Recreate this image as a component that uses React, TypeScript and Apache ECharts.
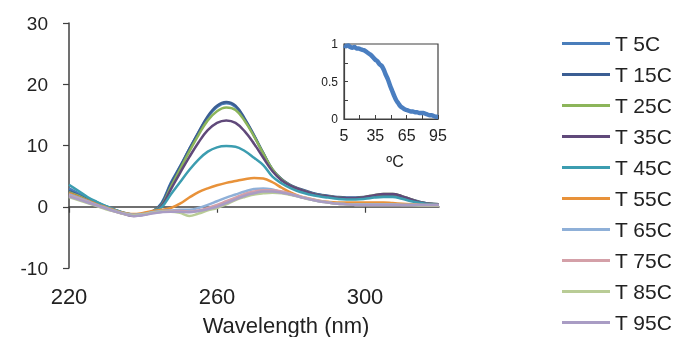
import { useEffect, useRef } from "react";
import * as echarts from "echarts";

const wavelengths = [
  220, 222.5, 225, 227.5, 230, 232.5, 235, 237.5, 240, 242.5, 245, 247.5, 250, 252.5, 255, 257.5,
  260, 262.5, 265, 267.5, 270, 272.5, 275, 277.5, 280, 282.5, 285, 287.5, 290, 292.5, 295, 297.5,
  300, 302.5, 305, 307.5, 310, 312.5, 315, 317.5, 320,
];

const seriesNames = ["T 5C", "T 15C", "T 25C", "T 35C", "T 45C", "T 55C", "T 65C", "T 75C", "T 85C", "T 95C"];
const seriesColors = ["#4a7ebb", "#3b5e93", "#8cb55a", "#60497a", "#3c9db0", "#e8923a", "#8fb0d8", "#d4a0a8", "#b9cc96", "#a99cc4"];

const t5 = [3.0, 2.2, 1.4, 0.7, 0.1, -0.5, -1.0, -1.3, -1.2, -0.8, 0.6, 3.9, 6.6, 9.4, 12.1, 14.6, 16.3, 16.9, 16.3, 14.2, 11.6, 8.7, 6.0, 4.4, 3.4, 2.8, 2.3, 2.0, 1.7, 1.5, 1.4, 1.4, 1.5, 1.7, 1.9, 1.9, 1.6, 1.1, 0.7, 0.5, 0.4];
const t15 = [2.6, 1.9, 1.2, 0.6, 0.0, -0.6, -1.1, -1.3, -1.2, -0.8, 0.5, 3.7, 6.5, 9.4, 12.2, 14.8, 16.5, 17.1, 16.5, 14.4, 11.7, 8.8, 6.1, 4.5, 3.5, 2.9, 2.4, 2.0, 1.8, 1.6, 1.5, 1.5, 1.6, 1.8, 2.0, 2.0, 1.7, 1.2, 0.8, 0.5, 0.4];
const t25 = [2.4, 1.8, 1.1, 0.5, 0.0, -0.6, -1.1, -1.3, -1.2, -0.8, 0.2, 3.2, 6.1, 9.0, 11.7, 14.1, 15.6, 16.2, 15.8, 14.0, 11.5, 8.7, 6.1, 4.4, 3.4, 2.8, 2.3, 1.9, 1.7, 1.5, 1.4, 1.4, 1.6, 1.9, 2.1, 2.1, 1.7, 1.2, 0.7, 0.5, 0.4];
const t35 = [2.2, 1.6, 1.0, 0.4, -0.1, -0.7, -1.2, -1.5, -1.3, -0.9, 0.1, 2.8, 5.5, 8.1, 10.5, 12.5, 13.7, 14.1, 13.7, 12.3, 10.3, 8.0, 5.8, 4.3, 3.4, 2.8, 2.3, 1.9, 1.7, 1.5, 1.4, 1.4, 1.6, 1.9, 2.1, 2.1, 1.7, 1.2, 0.7, 0.5, 0.4];
const t45 = [3.6, 2.6, 1.6, 0.8, 0.1, -0.5, -1.0, -1.3, -1.2, -0.8, -0.1, 2.0, 4.0, 6.0, 7.7, 9.0, 9.7, 9.9, 9.8, 9.1, 8.0, 6.8, 4.9, 3.8, 3.0, 2.4, 2.0, 1.7, 1.5, 1.3, 1.2, 1.2, 1.3, 1.5, 1.6, 1.6, 1.3, 0.9, 0.6, 0.4, 0.3];
const t55 = [2.2, 1.6, 1.0, 0.4, -0.1, -0.6, -1.0, -1.2, -1.0, -0.7, -0.5, -0.2, 0.5, 1.5, 2.4, 3.0, 3.5, 3.9, 4.2, 4.5, 4.7, 4.6, 4.0, 3.1, 2.3, 1.7, 1.3, 1.0, 0.8, 0.7, 0.7, 0.7, 0.7, 0.7, 0.7, 0.6, 0.5, 0.4, 0.3, 0.3, 0.3];
const t65 = [2.0, 1.5, 0.9, 0.3, -0.2, -0.7, -1.1, -1.3, -1.2, -0.9, -0.7, -0.6, -0.5, -0.5, -0.2, 0.3, 0.9, 1.5, 2.0, 2.5, 2.9, 3.0, 2.8, 2.4, 2.0, 1.6, 1.2, 0.9, 0.7, 0.5, 0.4, 0.4, 0.4, 0.4, 0.4, 0.4, 0.3, 0.3, 0.3, 0.3, 0.3];
const t75 = [1.8, 1.3, 0.8, 0.2, -0.3, -0.8, -1.2, -1.4, -1.3, -1.0, -0.8, -0.7, -0.7, -0.8, -0.6, -0.2, 0.3, 0.9, 1.5, 2.1, 2.5, 2.7, 2.7, 2.5, 2.1, 1.7, 1.3, 1.0, 0.7, 0.5, 0.4, 0.3, 0.3, 0.3, 0.3, 0.3, 0.3, 0.3, 0.3, 0.2, 0.2];
const t85 = [1.6, 1.1, 0.6, 0.1, -0.4, -0.8, -1.2, -1.4, -1.3, -1.0, -0.8, -0.8, -1.0, -1.5, -1.1, -0.6, -0.2, 0.4, 1.1, 1.6, 2.0, 2.2, 2.3, 2.2, 1.9, 1.6, 1.2, 0.9, 0.7, 0.5, 0.4, 0.3, 0.3, 0.3, 0.3, 0.3, 0.3, 0.3, 0.2, 0.2, 0.2];
const t95 = [1.7, 1.2, 0.7, 0.2, -0.3, -0.8, -1.2, -1.5, -1.4, -1.1, -0.9, -0.8, -0.8, -0.9, -0.7, -0.4, 0.0, 0.6, 1.2, 1.8, 2.2, 2.5, 2.5, 2.3, 2.0, 1.6, 1.2, 0.9, 0.7, 0.5, 0.4, 0.3, 0.3, 0.3, 0.3, 0.3, 0.3, 0.3, 0.3, 0.3, 0.3];
const seriesValues = [t5, t15, t25, t35, t45, t55, t65, t75, t85, t95];

const xTicks = [220, 260, 300];
const yTicks = [-10, 0, 10, 20, 30];

const meltTemps = [5, 7, 9, 11, 13, 15, 17, 19, 21, 23, 25, 27, 29, 31, 33, 35, 37, 39, 41, 43, 45, 47, 49, 51, 53, 55, 57, 59, 61, 63, 65, 67, 69, 71, 73, 75, 77, 79, 81, 83, 85, 87, 89, 91, 93, 95];
const meltFraction = [0.98, 0.97, 0.98, 0.96, 0.95, 0.96, 0.94, 0.94, 0.93, 0.92, 0.91, 0.89, 0.87, 0.85, 0.82, 0.79, 0.77, 0.73, 0.71, 0.66, 0.59, 0.53, 0.45, 0.38, 0.31, 0.25, 0.21, 0.17, 0.15, 0.13, 0.12, 0.11, 0.10, 0.10, 0.09, 0.09, 0.08, 0.08, 0.08, 0.07, 0.06, 0.05, 0.05, 0.04, 0.03, 0.03];

const FONT = "Liberation Sans, Arial, sans-serif";
const AXIS = "#404040";

export default function App() {
  const ref = useRef<HTMLDivElement>(null);
  useEffect(() => {
    const chart = echarts.init(ref.current!, null, { renderer: "svg" });
    const mainSeries = seriesNames.map((name, k) => ({
      name,
      type: "line",
      xAxisIndex: 0,
      yAxisIndex: 0,
      data: wavelengths.map((w, i) => [w, seriesValues[k][i]]),
      smooth: 0.4,
      showSymbol: false,
      symbol: "none",
      lineStyle: { color: seriesColors[k], width: 2.5 },
      itemStyle: { color: seriesColors[k] },
    }));
    chart.setOption({
      animation: false,
      textStyle: { fontFamily: FONT },
      grid: [
        { left: 69, top: 23, width: 370, height: 245, containLabel: false, outerBoundsMode: "none" },
        { left: 344, top: 44, width: 94, height: 75, show: true, borderColor: AXIS, borderWidth: 1.2, backgroundColor: "transparent", outerBoundsMode: "none" },
      ],
      legend: {
        orient: "vertical",
        left: 562,
        top: 33,
        padding: 0,
        icon: "rect",
        itemWidth: 48,
        itemHeight: 3,
        itemGap: 10,
        data: seriesNames,
        textStyle: { fontSize: 21, lineHeight: 21, color: "#222", fontFamily: FONT },
      },
      xAxis: [
        {
          type: "value",
          gridIndex: 0,
          min: 220,
          max: 320,
          interval: 40,
          splitLine: { show: false },
          axisLine: { show: true, onZero: true, lineStyle: { color: AXIS, width: 1.5 } },
          axisTick: { show: true, inside: false, length: 6, customValues: xTicks, lineStyle: { color: AXIS, width: 1.2 } },
          axisLabel: { show: true, customValues: xTicks, margin: 17, fontSize: 22, color: "#222", fontFamily: FONT },
        },
        {
          type: "value",
          gridIndex: 1,
          min: 5,
          max: 95,
          interval: 30,
          splitLine: { show: false },
          axisLine: { show: true, onZero: false, lineStyle: { color: AXIS, width: 1.2 } },
          axisTick: { show: true, inside: true, length: 4, lineStyle: { color: AXIS } },
          minorTick: { show: true, splitNumber: 2, length: 4, lineStyle: { color: AXIS } },
          axisLabel: { show: true, margin: 8, fontSize: 16, color: "#222", fontFamily: FONT },
        },
      ],
      yAxis: [
        {
          type: "value",
          gridIndex: 0,
          min: -10,
          max: 30,
          interval: 10,
          splitLine: { show: false },
          axisLine: { show: true, onZero: false, lineStyle: { color: AXIS, width: 1.5 } },
          axisTick: { show: true, inside: false, length: 6, customValues: yTicks, lineStyle: { color: AXIS, width: 1.2 } },
          axisLabel: { show: true, margin: 21, fontSize: 19, color: "#222", fontFamily: FONT },
        },
        {
          type: "value",
          gridIndex: 1,
          min: 0,
          max: 1,
          interval: 0.5,
          splitLine: { show: false },
          axisLine: { show: true, onZero: false, lineStyle: { color: AXIS, width: 1.2 } },
          axisTick: { show: true, inside: true, length: 4, lineStyle: { color: AXIS } },
          minorTick: { show: true, splitNumber: 2, length: 4, lineStyle: { color: AXIS } },
          axisLabel: { show: true, margin: 6, fontSize: 12, color: "#222", fontFamily: FONT },
        },
      ],
      series: [
        ...mainSeries,
        {
          name: "melt",
          type: "line",
          xAxisIndex: 1,
          yAxisIndex: 1,
          data: meltTemps.map((t, i) => [t, meltFraction[i]]),
          showSymbol: false,
          symbol: "none",
          smooth: 0.3,
          lineStyle: { color: "#4a7ec0", width: 4.5 },
          z: 5,
        },
      ],
      graphic: [
        {
          type: "text",
          x: 286,
          y: 325,
          style: { text: "Wavelength (nm)", fontSize: 22, fill: "#222", fontFamily: FONT, align: "center", verticalAlign: "middle" },
        },
        {
          type: "text",
          x: 395,
          y: 161,
          style: { text: "ºC", fontSize: 16, fill: "#222", fontFamily: FONT, align: "center", verticalAlign: "middle" },
        },
      ],
    });
    return () => chart.dispose();
  }, []);
  return <div ref={ref} style={{ position: "fixed", left: 0, top: 0, width: 692, height: 337 }} />;
}
